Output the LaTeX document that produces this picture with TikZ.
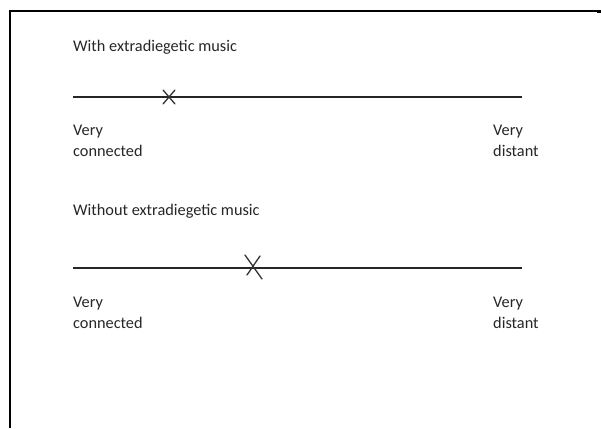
\documentclass[tikz,border=0pt]{standalone}
\usepackage{fontspec}
\setmainfont{Carlito}
\usetikzlibrary{calc}
\begin{document}
\begin{tikzpicture}[x=1pt,y=-1pt,
  frame/.style={line width=2pt,black},
  scale line/.style={line width=1.4pt,black!85},
  cross/.style={line width=1.3pt,black!80,line cap=round},
  label/.style={anchor=base west,inner sep=0pt,font=\fontsize{16.3}{20.5}\selectfont,text=black!85,align=left},
]
\useasboundingbox (0,0) rectangle (601,428);
% page frame
\draw[frame] (10,428) -- (10,11) -- (601,11);
\fill[black] (597,10) rectangle (601,13.5);

% first rating scale
\node[label] (t1) at (73,52) {With extradiegetic music};
\coordinate (a1) at (73,97);
\coordinate (b1) at (522,97);
\draw[scale line] (a1) -- (b1);
\coordinate (x1) at (169,97);
\draw[cross] ($(x1)+(-6,-7)$) -- ($(x1)+(6,7)$)
             ($(x1)+(6,-7)$) -- ($(x1)+(-6,7)$);
\node[label] (l1) at (73,156) {Very\\connected};
\node[label] (r1) at (493,156) {Very\\distant};

% second rating scale
\node[label] (t2) at (73,215) {Without extradiegetic music};
\coordinate (a2) at (73,268);
\coordinate (b2) at (522,268);
\draw[scale line] (a2) -- (b2);
\coordinate (x2) at (253,267);
\draw[cross] ($(x2)+(-8,-12)$) -- ($(x2)+(9,12)$)
             ($(x2)+(7,-11)$) -- ($(x2)+(-6,8)$);
\node[label] (l2) at (73,328) {Very\\connected};
\node[label] (r2) at (493,328) {Very\\distant};
\end{tikzpicture}
\end{document}
